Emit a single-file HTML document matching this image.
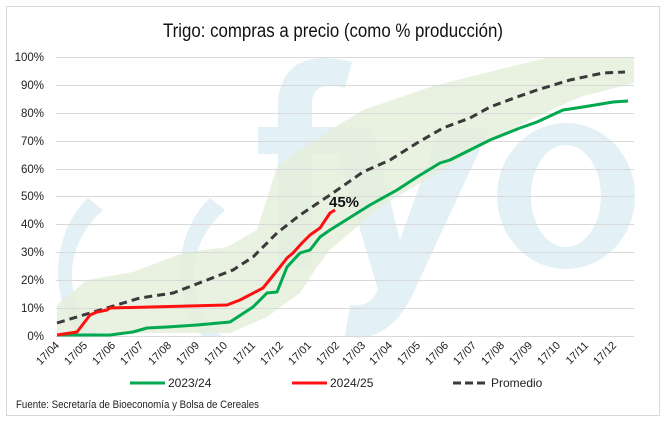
<!DOCTYPE html>
<html><head><meta charset="utf-8"><style>
html,body{margin:0;padding:0;background:#fff;}
svg{display:block;font-family:"Liberation Sans Narrow","Liberation Sans",sans-serif;}
</style></head><body>
<svg width="667" height="421" viewBox="0 0 667 421" xmlns="http://www.w3.org/2000/svg">
<rect x="6.5" y="6.5" width="653" height="409" fill="#fff" stroke="#d9d9d9"/>
<text x="333" y="37" font-size="19" text-anchor="middle" textLength="340" lengthAdjust="spacingAndGlyphs" fill="#111">Trigo: compras a precio (como % producción)</text>
<!-- watermark -->
<g fill="#e3f0f5">
<path fill-rule="evenodd" d="M566,123 a69,73 0 1,0 0.1,0 Z M566,145 a35,51 0 1,1 -0.1,0 Z"/>
<path d="M278,267 L312,267 L312,154 L345,154 L345,127 L312,127 L312,100 Q315,80 345,88 L352,62 Q285,45 278,100 L278,127 L258,127 L258,154 L278,154 Z"/>
<path d="M330,128 L372,128 L400,240 L440,128 L490,128 L410,300 Q385,345 345,336 L350,305 Q370,308 378,290 Z"/>
<path d="M103,210 Q70,240 72,280 Q74,315 100,336 L80,336 Q58,310 58,270 Q60,225 88,198 Z"/>
<path d="M225,210 Q192,240 194,280 Q196,315 222,336 L202,336 Q180,310 180,270 Q182,225 210,198 Z"/>
</g>
<!-- band -->
<path fill="#e5efdc" fill-opacity="0.85" d="M57,305 L87,280 L133,272 L183,253 L227,247 L257,230 L277,167 L300,150 L330,130 L363,110 L430,87 L497,70 L547,58 L634,57 L634,83 L580,97 L530,120 L480,147 L430,177 L380,207 L330,250 L317,267 L300,293 L267,317 L230,333 L57,333 Z"/>
<!-- grid -->
<g stroke="#d9d9d9" stroke-width="1">
<line x1="56" x2="634" y1="57.5" y2="57.5"/><line x1="56" x2="634" y1="85.5" y2="85.5"/>
<line x1="56" x2="634" y1="113.5" y2="113.5"/><line x1="56" x2="634" y1="141.5" y2="141.5"/>
<line x1="56" x2="634" y1="169.5" y2="169.5"/><line x1="56" x2="634" y1="196.5" y2="196.5"/>
<line x1="56" x2="634" y1="224.5" y2="224.5"/><line x1="56" x2="634" y1="252.5" y2="252.5"/>
<line x1="56" x2="634" y1="280.5" y2="280.5"/><line x1="56" x2="634" y1="308.5" y2="308.5"/>
<line x1="56" x2="634" y1="336.5" y2="336.5"/>
</g>
<g font-size="11.5" fill="#222" text-anchor="end">
<text x="44" y="61">100%</text><text x="44" y="89">90%</text><text x="44" y="117">80%</text>
<text x="44" y="145">70%</text><text x="44" y="173">60%</text><text x="44" y="200">50%</text>
<text x="44" y="228">40%</text><text x="44" y="256">30%</text><text x="44" y="284">20%</text>
<text x="44" y="312">10%</text><text x="44" y="340">0%</text>
</g>
<g font-size="11" fill="#222" text-anchor="end">
<text transform="translate(60,346) rotate(-45)">17/04</text>
<text transform="translate(88,346) rotate(-45)">17/05</text>
<text transform="translate(116,346) rotate(-45)">17/06</text>
<text transform="translate(144,346) rotate(-45)">17/07</text>
<text transform="translate(172,346) rotate(-45)">17/08</text>
<text transform="translate(200,346) rotate(-45)">17/09</text>
<text transform="translate(228,346) rotate(-45)">17/10</text>
<text transform="translate(256,346) rotate(-45)">17/11</text>
<text transform="translate(284,346) rotate(-45)">17/12</text>
<text transform="translate(312,346) rotate(-45)">17/01</text>
<text transform="translate(340,346) rotate(-45)">17/02</text>
<text transform="translate(366,346) rotate(-45)">17/03</text>
<text transform="translate(393,346) rotate(-45)">17/04</text>
<text transform="translate(421,346) rotate(-45)">17/05</text>
<text transform="translate(449,346) rotate(-45)">17/06</text>
<text transform="translate(477,346) rotate(-45)">17/07</text>
<text transform="translate(505,346) rotate(-45)">17/08</text>
<text transform="translate(533,346) rotate(-45)">17/09</text>
<text transform="translate(561,346) rotate(-45)">17/10</text>
<text transform="translate(589,346) rotate(-45)">17/11</text>
<text transform="translate(617,346) rotate(-45)">17/12</text>
</g>
<!-- series -->
<polyline fill="none" stroke="#3a3a3a" stroke-width="3" stroke-dasharray="8,5" points="57,323 110,307 140,298 173,293 207,280 233,270 253,257 277,233 300,215 330,195 363,172 390,160 417,143 443,128 470,118 490,107 517,97 537,90 570,80 603,73 625,72"/>
<polyline fill="none" stroke="#00a94f" stroke-width="3" stroke-linejoin="round" points="57,335 110,335 133,332 147,328 167,327 197,325 230,322 253,307 267,293 277,292 287,267 300,253 310,250 320,237 330,230 370,205 397,190 417,177 440,163 450,160 490,140 520,128 537,122 563,110 583,107 613,102 628,101"/>
<polyline fill="none" stroke="#ff1010" stroke-width="3" stroke-linejoin="round" points="57,335 77,332 90,315 97,312 107,310 110,308 227,305 240,300 263,288 280,267 287,258 293,253 302,243 310,235 320,228 330,213 335,210"/>
<text x="329" y="207" font-size="15" font-weight="bold" fill="#111">45%</text>
<!-- legend -->
<line x1="130" x2="165" y1="383" y2="383" stroke="#00a94f" stroke-width="3"/>
<text x="168" y="387" font-size="12" fill="#222">2023/24</text>
<line x1="292" x2="327" y1="383" y2="383" stroke="#ff1010" stroke-width="3"/>
<text x="330" y="387" font-size="12" fill="#222">2024/25</text>
<line x1="453" x2="487" y1="383" y2="383" stroke="#3a3a3a" stroke-width="3" stroke-dasharray="8,4"/>
<text x="491" y="387" font-size="12" fill="#222">Promedio</text>
<text x="16" y="408" font-size="11" fill="#222" textLength="243" lengthAdjust="spacingAndGlyphs">Fuente: Secretaría de Bioeconomía y Bolsa de Cereales</text>
</svg>
</body></html>
